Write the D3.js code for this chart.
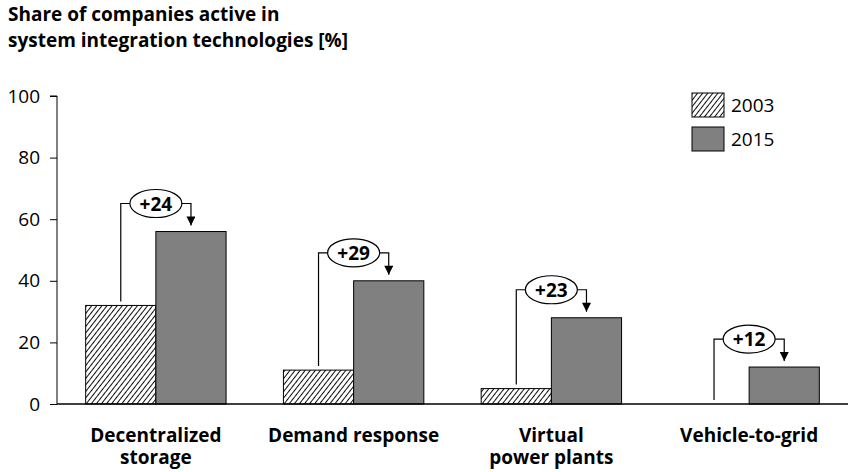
<!DOCTYPE html>
<html>
<head>
<meta charset="utf-8">
<script src="https://cdn.jsdelivr.net/npm/d3@7"></script>
<style>
  body { margin: 0; background: #fff; }
  svg { font-family: "Open Sans", Lato, sans-serif; }
</style>
</head>
<body>
<svg width="848" height="472"></svg>
<script>
var categories = [["Decentralized", "storage"], ["Demand response"], ["Virtual", "power plants"], ["Vehicle-to-grid"]];
var values2003 = [32, 11, 5, 0];
var values2015 = [56, 40, 28, 12];
var changes = ["+24", "+29", "+23", "+12"];
var yTicks = [0, 20, 40, 60, 80, 100];
var seriesNames = ["2003", "2015"];

var svg = d3.select("svg"),
    margin = {top: 96, right: 0, bottom: 68, left: 57},
    width = +svg.attr("width") - margin.left - margin.right,
    height = +svg.attr("height") - margin.top - margin.bottom,
    g = svg.append("g").attr("transform", "translate(" + margin.left + "," + margin.top + ")");

// hatch pattern
var defs = svg.append("defs");
var pat = defs.append("pattern")
    .attr("id", "hatch")
    .attr("patternUnits", "userSpaceOnUse")
    .attr("width", 4).attr("height", 4)
    .attr("patternTransform", "rotate(38)");
pat.append("rect").attr("width", 4).attr("height", 4).attr("fill", "#fff");
pat.append("line").attr("x1", 0).attr("y1", 0).attr("x2", 0).attr("y2", 4)
    .attr("stroke", "#000").attr("stroke-width", 1.9);

defs.append("marker")
    .attr("id", "arrow")
    .attr("viewBox", "0 0 10 10")
    .attr("refX", 10).attr("refY", 5)
    .attr("markerWidth", 11).attr("markerHeight", 9)
    .attr("markerUnits", "userSpaceOnUse")
    .attr("orient", "auto")
  .append("path").attr("d", "M0,0L10,5L0,10Z").attr("fill", "#000");

var idx = d3.range(categories.length);

var x = d3.scaleBand().domain(idx).range([0, width]).paddingInner(0.29).paddingOuter(0.145);
var xs = d3.scaleBand().domain([0, 1]).range([0, x.bandwidth()]);
var y = d3.scaleLinear().domain([0, 100]).range([height, 0]);

// title
svg.append("text").attr("x", 8).attr("y", 21)
    .attr("font-weight", "bold").attr("font-size", 19).attr("fill", "#000")
    .text("Share of companies active in");
svg.append("text").attr("x", 8).attr("y", 47)
    .attr("font-weight", "bold").attr("font-size", 19).attr("fill", "#000")
    .text("system integration technologies [%]");

// y axis
var yAxis = d3.axisLeft(y).tickValues(yTicks).tickSize(7).tickPadding(10);
var ya = g.append("g").call(yAxis);
ya.select(".domain").attr("d", "M-7,0H0V" + height).attr("stroke", "#000");
ya.selectAll(".tick line").attr("stroke", "#000");
ya.selectAll(".tick text").attr("font-size", 19).attr("fill", "#000")
    .attr("font-family", "'Open Sans', Lato, sans-serif");

// bars 2003
g.selectAll(".b2003").data(idx).enter().append("rect")
    .attr("x", function(i) { return x(i) + xs(0); })
    .attr("y", function(i) { return y(values2003[i]); })
    .attr("width", xs.bandwidth())
    .attr("height", function(i) { return height - y(values2003[i]); })
    .attr("fill", "url(#hatch)")
    .attr("stroke", function(i) { return values2003[i] > 0 ? "#000" : "none"; })
    .attr("stroke-width", 1);

// bars 2015
g.selectAll(".b2015").data(idx).enter().append("rect")
    .attr("x", function(i) { return x(i) + xs(1); })
    .attr("y", function(i) { return y(values2015[i]); })
    .attr("width", xs.bandwidth())
    .attr("height", function(i) { return height - y(values2015[i]); })
    .attr("fill", "#808080")
    .attr("stroke", "#000")
    .attr("stroke-width", 1);

// x baseline
g.append("line").attr("x1", 0).attr("x2", width).attr("y1", height).attr("y2", height)
    .attr("stroke", "#000").attr("stroke-width", 1.5);

// change brackets
var rx = 26, ry = 14;
idx.forEach(function(i) {
  var cx = x(i) + x.bandwidth() / 2;
  var x0 = x(i) + xs(0) + xs.bandwidth() / 2;
  var x1 = x(i) + xs(1) + xs.bandwidth() / 2;
  var by = y(values2015[i]) - 28;
  g.append("path")
    .attr("d", "M" + x0 + "," + (y(values2003[i]) - 4) + "V" + by + "H" + (cx - rx))
    .attr("fill", "none").attr("stroke", "#000").attr("stroke-width", 1.2);
  g.append("path")
    .attr("d", "M" + (cx + rx) + "," + by + "H" + x1 + "V" + (y(values2015[i]) - 6))
    .attr("fill", "none").attr("stroke", "#000").attr("stroke-width", 1.2)
    .attr("marker-end", "url(#arrow)");
  g.append("ellipse").attr("cx", cx).attr("cy", by).attr("rx", rx).attr("ry", ry)
    .attr("fill", "#fff").attr("stroke", "#000").attr("stroke-width", 1.2);
  g.append("text").attr("x", cx).attr("y", by + 7)
    .attr("text-anchor", "middle").attr("font-weight", "bold").attr("font-size", 19)
    .text(changes[i]);
});

// category labels, one text per line
idx.forEach(function(i) {
  categories[i].forEach(function(line, k) {
    g.append("text").attr("x", x(i) + x.bandwidth() / 2).attr("y", height + 38 + k * 22)
      .attr("text-anchor", "middle").attr("font-weight", "bold").attr("font-size", 19)
      .text(line);
  });
});

// legend
var legend = svg.append("g").attr("transform", "translate(692,93)");
seriesNames.forEach(function(name, k) {
  legend.append("rect").attr("x", 0).attr("y", k * 34).attr("width", 32).attr("height", 24)
    .attr("fill", k === 0 ? "url(#hatch)" : "#808080")
    .attr("stroke", "#000").attr("stroke-width", 1);
  legend.append("text").attr("x", 39).attr("y", k * 34 + 19)
    .attr("font-size", 19).text(name);
});
</script>
</body>
</html>
